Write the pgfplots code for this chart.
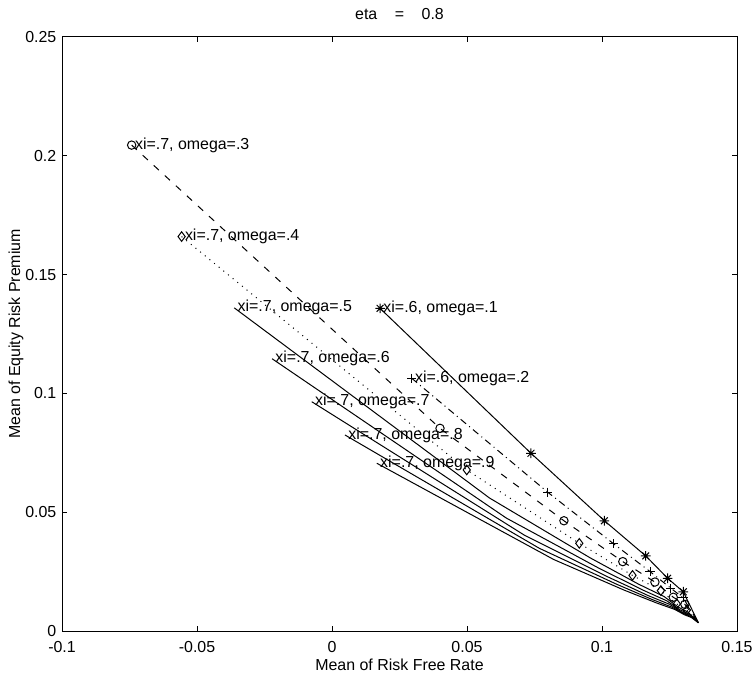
\documentclass[border=0pt]{standalone}
\usepackage{pgfplots}
\usepackage{pgfplotstable}
\pgfplotsset{compat=1.18}
\usepackage{fontspec}
\setmainfont{Liberation Sans}

% MATLAB-like eight-spoke star
\pgfdeclareplotmark{mstar}{%
  \pgfpathmoveto{\pgfqpoint{-\pgfplotmarksize}{0pt}}\pgfpathlineto{\pgfqpoint{\pgfplotmarksize}{0pt}}%
  \pgfpathmoveto{\pgfqpoint{0pt}{-\pgfplotmarksize}}\pgfpathlineto{\pgfqpoint{0pt}{\pgfplotmarksize}}%
  \pgfpathmoveto{\pgfqpoint{-0.707\pgfplotmarksize}{-0.707\pgfplotmarksize}}\pgfpathlineto{\pgfqpoint{0.707\pgfplotmarksize}{0.707\pgfplotmarksize}}%
  \pgfpathmoveto{\pgfqpoint{-0.707\pgfplotmarksize}{0.707\pgfplotmarksize}}\pgfpathlineto{\pgfqpoint{0.707\pgfplotmarksize}{-0.707\pgfplotmarksize}}%
  \pgfusepathqstroke}

% xi=.6, omega=.1 (solid, stars)
\pgfplotstableread{
x y
0.0178 0.1358
0.0737 0.0748
0.1009 0.0464
0.1162 0.0316
0.1243 0.0222
0.1301 0.0165
0.1357 0.0035
}\tabA
% xi=.6, omega=.2 (dash-dot, plus)
\pgfplotstableread{
x y
0.0295 0.1064
0.0799 0.0584
0.1043 0.0367
0.1178 0.0250
0.1255 0.0180
0.1300 0.0140
0.1357 0.0035
}\tabB
% xi=.7, omega=.3 (dashed, circles)
\pgfplotstableread{
x y
-0.0742 0.2045
0.0400 0.0853
0.0859 0.0464
0.1077 0.0292
0.1196 0.0206
0.1264 0.0142
0.1307 0.0112
0.1357 0.0035
}\tabC
% xi=.7, omega=.4 (dotted, diamonds)
\pgfplotstableread{
x y
-0.0557 0.1660
0.0499 0.0678
0.0916 0.0369
0.1113 0.0234
0.1218 0.0170
0.1277 0.0114
0.1314 0.0088
0.1357 0.0035
}\tabD
% xi=.7, omega=.5
\pgfplotstableread{
x y
-0.0362 0.1360
0.0583 0.0560
0.0956 0.0308
0.1134 0.0198
0.1230 0.0145
0.1283 0.0100
0.1319 0.0079
0.1357 0.0035
}\tabE
% xi=.7, omega=.6
\pgfplotstableread{
x y
-0.0222 0.1146
0.0646 0.0475
0.0989 0.0264
0.1152 0.0172
0.1240 0.0127
0.1289 0.0089
0.1322 0.0072
0.1357 0.0035
}\tabF
% xi=.7, omega=.7
\pgfplotstableread{
x y
-0.0075 0.0965
0.0713 0.0403
0.1023 0.0227
0.1171 0.0149
0.1251 0.0112
0.1295 0.0080
0.1326 0.0066
0.1357 0.0035
}\tabG
% xi=.7, omega=.8
\pgfplotstableread{
x y
0.0048 0.0825
0.0768 0.0348
0.1052 0.0198
0.1187 0.0132
0.1260 0.0100
0.1301 0.0074
0.1328 0.0061
0.1357 0.0035
}\tabH
% xi=.7, omega=.9
\pgfplotstableread{
x y
0.0166 0.0706
0.0821 0.0301
0.1080 0.0173
0.1202 0.0118
0.1269 0.0091
0.1306 0.0068
0.1331 0.0057
0.1357 0.0035
}\tabI

\begin{document}
\fontsize{8}{9.6}\selectfont
\begin{tikzpicture}
\useasboundingbox (-31bp,-25bp) rectangle (347bp,315.5bp);
\begin{axis}[
  at={(0,0)}, anchor=south west,
  scale only axis, width=337.5bp, height=297bp,
  xmin=-0.1, xmax=0.15, ymin=0, ymax=0.25,
  scaled ticks=false,
  xtick={-0.1,-0.05,0,0.05,0.1,0.15},
  xticklabels={-0.1,-0.05,0,0.05,0.1,0.15},
  ytick={0,0.05,0.1,0.15,0.2,0.25},
  yticklabels={0,0.05,0.1,0.15,0.2,0.25},
  tick align=inside, major tick length=2.5bp,
  xtick pos=both, ytick pos=both,
  xticklabel pos=bottom, yticklabel pos=left,
  axis line style={line width=0.5bp},
  every tick/.style={black, line width=0.5bp},
  xticklabel style={font=\fontsize{8}{9.6}\selectfont, yshift=-2.5bp},
  yticklabel style={font=\fontsize{8}{9.6}\selectfont},
  xlabel={Mean of Risk Free Rate},
  ylabel={Mean of Equity Risk Premium},
  xlabel style={at={(axis description cs:0.5,0)}, anchor=center, yshift=-17bp, font=\fontsize{8}{9.6}\selectfont},
  ylabel style={at={(axis description cs:0,0.5)}, anchor=center, yshift=23bp, font=\fontsize{8}{9.6}\selectfont},
  title={eta\hspace{1.1em}=\hspace{1.1em}0.8},
  title style={at={(axis description cs:0.5,1)}, anchor=center, yshift=5.5bp, font=\fontsize{8}{9.6}\selectfont},
  every axis plot/.append style={black, line width=0.5bp},
]
% lines
\addplot[solid, no marks] table[x=x,y=y]{\tabA};
\addplot[dash pattern=on 3.5bp off 2bp on 0.5bp off 2bp, no marks] table[x=x,y=y]{\tabB};
\addplot[dash pattern=on 3.5bp off 4bp, no marks] table[x=x,y=y]{\tabC};
\addplot[dash pattern=on 0.5bp off 2.5bp, no marks] table[x=x,y=y]{\tabD};
\addplot[solid, no marks] table[x=x,y=y]{\tabE};
\addplot[solid, no marks] table[x=x,y=y]{\tabF};
\addplot[solid, no marks] table[x=x,y=y]{\tabG};
\addplot[solid, no marks] table[x=x,y=y]{\tabH};
\addplot[solid, no marks] table[x=x,y=y]{\tabI};
% markers (the common end point carries none)
\addplot[only marks, mark=mstar, mark size=2.4bp, mark options={solid}, skip coords between index={6}{7}] table[x=x,y=y]{\tabA};
\addplot[only marks, mark=+, mark size=2.3bp, mark options={solid}, skip coords between index={6}{7}] table[x=x,y=y]{\tabB};
\addplot[only marks, mark=o, mark size=2.1bp, mark options={solid}, skip coords between index={7}{8}] table[x=x,y=y]{\tabC};
\addplot[only marks, mark=diamond, mark size=2.4bp, mark options={solid}, skip coords between index={7}{8}] table[x=x,y=y]{\tabD};
% annotations
\begin{scope}[every node/.style={anchor=west, inner sep=0pt, xshift=1.5bp, font=\fontsize{8}{9.6}\selectfont}]
\node at (axis cs:-0.0742,0.2045) {xi=.7, omega=.3};
\node at (axis cs:-0.0557,0.1660) {xi=.7, omega=.4};
\node at (axis cs:-0.0362,0.1360) {xi=.7, omega=.5};
\node at (axis cs:-0.0222,0.1146) {xi=.7, omega=.6};
\node at (axis cs:-0.0075,0.0965) {xi=.7, omega=.7};
\node at (axis cs:0.0048,0.0825) {xi=.7, omega=.8};
\node at (axis cs:0.0166,0.0706) {xi=.7, omega=.9};
\node at (axis cs:0.0178,0.1358) {xi=.6, omega=.1};
\node at (axis cs:0.0295,0.1064) {xi=.6, omega=.2};
\end{scope}
\end{axis}
\end{tikzpicture}
\end{document}
